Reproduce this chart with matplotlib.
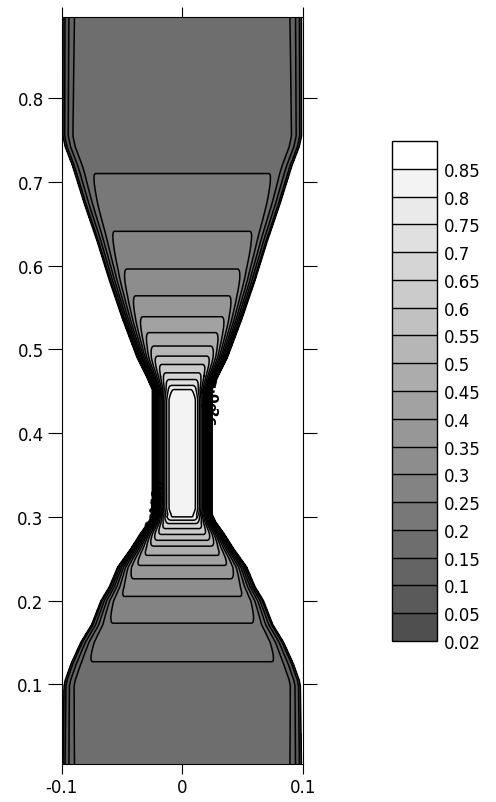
import numpy as np
import matplotlib.pyplot as plt
from matplotlib.ticker import FormatStrFormatter

plt.rcParams['font.family'] = ['DejaVu Sans']
plt.rcParams['axes.unicode_minus'] = False

# contour levels and their grey fills
levels = [0.02, 0.05, 0.1, 0.15, 0.2, 0.25, 0.3, 0.35, 0.4, 0.45,
          0.5, 0.55, 0.6, 0.65, 0.7, 0.75, 0.8, 0.85, 0.9]
grays = ['#4f4f4f', '#5a5a5a', '#646464', '#6e6e6e', '#787878', '#838383',
         '#8d8d8d', '#979797', '#a2a2a2', '#acacac', '#b6b6b6', '#c1c1c1',
         '#cbcbcb', '#d5d5d5', '#e0e0e0', '#eaeaea', '#f3f3f3', '#ffffff']

# half width of the specimen along its length
prof_y = [0.0, 0.098, 0.105, 0.125, 0.15, 0.171, 0.2, 0.2165, 0.24, 0.262, 0.28,
          0.294, 0.303, 0.452, 0.468, 0.491, 0.5365, 0.5825, 0.628, 0.674,
          0.7195, 0.742, 0.755, 0.9]
prof_hw = [0.1, 0.099, 0.098, 0.093, 0.085, 0.076, 0.068, 0.061, 0.054, 0.043, 0.035,
           0.028, 0.025, 0.025, 0.030, 0.038, 0.050, 0.061, 0.071, 0.082,
           0.092, 0.098, 0.1, 0.1]

# value on the centre line (where the horizontal contours cross x = 0)
cen_y = [0.0, 0.127, 0.173, 0.205, 0.226, 0.242, 0.254, 0.265, 0.272, 0.279,
         0.286, 0.292, 0.296, 0.300, 0.31, 0.44, 0.452, 0.457, 0.464, 0.472,
         0.482, 0.492, 0.504, 0.52, 0.539, 0.564, 0.596, 0.641, 0.71, 0.9]
cen_v = [0.18, 0.2, 0.25, 0.3, 0.35, 0.4, 0.45, 0.5, 0.55, 0.6,
         0.65, 0.7, 0.75, 0.8, 0.84, 0.84, 0.8, 0.75, 0.7, 0.65,
         0.6, 0.55, 0.5, 0.45, 0.4, 0.35, 0.3, 0.25, 0.2, 0.18]

xticks = [-0.1, 0, 0.1]
yticks = [0.1, 0.2, 0.3, 0.4, 0.5, 0.6, 0.7, 0.8]

# build the field: centre value dropping off towards the free edge
xs = np.linspace(-0.1, 0.1, 401)
ys = np.linspace(0.0, 0.9, 901)
X, Y = np.meshgrid(xs, ys)
hw = np.interp(Y, prof_y, prof_hw)
cv = np.interp(Y, cen_y, cen_v)
t = np.clip((hw - np.abs(X)) / 0.018, 0, 1)
Z = cv * (1 - (1 - t) ** 2)

fig = plt.figure(figsize=(4.96, 8.03), dpi=100)
ax = fig.add_axes([0.1244, 0.0473, 0.4859, 0.9303])
cf = ax.contourf(X, Y, Z, levels=levels, colors=grays)
cs = ax.contour(X, Y, Z, levels=levels[:-1], colors='black', linewidths=1.1)

# the clumped labels sitting on the neck edges
lab_pos = [(-0.024, 0.300), (-0.021, 0.311), (-0.024, 0.321), (-0.021, 0.331),
           (0.022, 0.424), (0.024, 0.434), (0.022, 0.444), (0.024, 0.454)]
labs = ax.clabel(cs, levels=[0.05, 0.1, 0.2, 0.3, 0.4, 0.5, 0.6], manual=lab_pos,
                 inline=False, fmt='%g', fontsize=10, colors='black')
for lb in labs:
    lb.set_fontweight('bold')

ax.set_xlim(-0.1, 0.1)
ax.set_ylim(0.0048, 0.897)
ax.set_xticks(xticks)
ax.set_yticks(yticks)
ax.xaxis.set_major_formatter(FormatStrFormatter('%g'))
ax.yaxis.set_major_formatter(FormatStrFormatter('%g'))
ax.tick_params(direction='out', top=True, right=True, labelsize=12, width=0.8, pad=3)
ax.tick_params(axis='x', length=7)
ax.tick_params(axis='y', length=10)
for s in ax.spines.values():
    s.set_linewidth(0.8)

cax = fig.add_axes([0.7903, 0.2005, 0.0907, 0.6227])
cb = fig.colorbar(cf, cax=cax, spacing='uniform', drawedges=True,
                  ticks=levels[:-1], format=FormatStrFormatter('%g'))
cb.outline.set_linewidth(1)
cb.dividers.set_color('black')
cb.dividers.set_linewidth(1)
cax.tick_params(length=0, pad=5, labelsize=12)

fig.savefig('out.png', dpi=100)
